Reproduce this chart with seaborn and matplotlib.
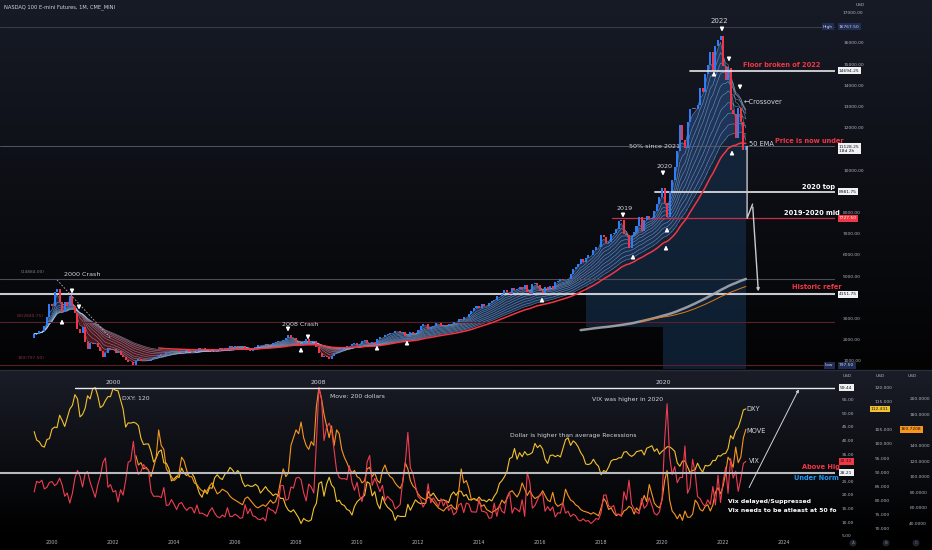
import numpy as np
import pandas as pd
import matplotlib
matplotlib.use('Agg')
import matplotlib.pyplot as plt
import matplotlib.transforms as mtransforms
from matplotlib.colors import LinearSegmentedColormap
from matplotlib.lines import Line2D
import seaborn as sns

# ---------------------------------------------------------------- data
# NASDAQ 100 e-mini, monthly closes, Jun 1999 -> Oct 2022
NQ_START = '1999-06-01'
NQ_FIRST_OPEN = 2091
nq_close = [
    2296, 2260, 2396, 2408, 2666, 3088, 3708,
    3571, 4267, 4398, 3773, 3324, 3764, 3609, 4078, 3571, 3282, 2507, 2342,
    2593, 1908, 1573, 1855, 1799, 1830, 1683, 1469, 1168, 1364, 1596, 1577,
    1550, 1359, 1452, 1277, 1208, 1051, 962, 942, 833, 989, 1116, 984,
    981, 1012, 1018, 1106, 1198, 1201, 1263, 1315, 1303, 1416, 1424, 1468,
    1477, 1451, 1439, 1400, 1475, 1517, 1401, 1363, 1437, 1502, 1591, 1621,
    1519, 1499, 1483, 1424, 1542, 1494, 1605, 1581, 1601, 1585, 1688, 1645,
    1710, 1676, 1703, 1700, 1585, 1575, 1481, 1554, 1654, 1732, 1771, 1757,
    1791, 1758, 1773, 1864, 1916, 1934, 1933, 1976, 2092, 2239, 2090, 2085,
    1841, 1739, 1781, 1911, 2028, 1837, 1873, 1928, 1664, 1375, 1165, 1212,
    1176, 1111, 1237, 1391, 1441, 1477, 1592, 1632, 1718, 1690, 1785, 1860,
    1732, 1818, 1956, 2006, 1855, 1766, 1892, 1791, 2019, 2141, 2124, 2217,
    2266, 2325, 2338, 2414, 2399, 2340, 2345, 2201, 2140, 2345, 2299, 2278,
    2461, 2640, 2756, 2722, 2517, 2616, 2631, 2773, 2799, 2659, 2677, 2660,
    2732, 2739, 2819, 2839, 2996, 2910, 3088, 3067, 3219, 3372, 3498, 3592,
    3506, 3676, 3596, 3589, 3736, 3849, 3887, 4083, 4050, 4158, 4338, 4236,
    4152, 4441, 4334, 4415, 4508, 4397, 4589, 4275, 4182, 4649, 4665, 4594,
    4280, 4202, 4484, 4341, 4524, 4418, 4731, 4771, 4876, 4801, 4810, 4864,
    5119, 5331, 5436, 5584, 5788, 5647, 5880, 5988, 5980, 6248, 6373, 6397,
    6950, 6856, 6581, 6605, 6967, 7040, 7232, 7624, 7628, 6968, 6949, 6330,
    6907, 7101, 7378, 7781, 7128, 7672, 7848, 7692, 7750, 8084, 8404, 8733,
    9150, 8462, 7813, 9000, 9555, 10157, 10906, 12111, 11418, 11052, 12268, 12888,
    12925, 12909, 13091, 13861, 13687, 14554, 14960, 15582, 14689, 15851, 16135, 16320,
    14930, 14238, 14839, 12855, 12643, 11504, 12947, 12273, 10971, 11128.25,
]

# DXY and VIX monthly closes, same months as the futures
dxy_close = [
    104.4, 101.4, 100.8, 99.3, 98.9, 101.6, 101.9,
    105.3, 106.0, 105.8, 110.2, 108.4, 106.2, 109.2, 112.4, 113.7, 117.5, 116.0, 109.6,
    110.5, 112.7, 117.1, 116.0, 119.5, 120.0, 117.2, 112.9, 113.6, 115.4, 116.8, 116.8,
    119.7, 119.0, 118.9, 115.6, 112.4, 106.0, 107.5, 107.4, 107.7, 107.4, 106.5, 102.0,
    99.8, 100.0, 100.0, 97.3, 93.6, 95.0, 97.2, 97.9, 93.3, 93.2, 91.2, 86.9,
    87.6, 88.6, 88.1, 91.5, 89.6, 88.8, 89.8, 89.7, 88.1, 85.2, 82.4, 81.1,
    83.8, 82.3, 84.5, 84.3, 88.0, 89.1, 88.0, 87.4, 89.3, 89.9, 91.7, 90.8,
    89.4, 90.6, 89.6, 86.5, 84.9, 85.5, 85.0, 85.0, 85.7, 85.0, 82.6, 83.7,
    84.9, 83.5, 82.8, 81.7, 82.3, 81.8, 80.7, 80.7, 78.0, 76.5, 75.9, 76.7,
    75.3, 73.8, 71.8, 73.6, 72.9, 72.6, 73.1, 77.2, 79.0, 86.0, 86.6, 81.5,
    85.8, 88.2, 85.5, 84.4, 79.6, 80.1, 78.6, 78.2, 76.8, 76.4, 74.8, 77.9,
    79.5, 80.4, 81.0, 81.8, 86.6, 86.0, 81.6, 83.1, 78.8, 77.0, 81.4, 79.0,
    77.6, 76.8, 75.9, 72.9, 74.6, 74.3, 74.3, 74.3, 78.6, 76.5, 78.4, 80.2,
    79.3, 78.8, 79.0, 78.9, 83.2, 81.6, 82.6, 81.2, 79.9, 80.0, 80.2, 79.8,
    79.2, 82.0, 83.0, 81.8, 83.3, 83.2, 81.5, 82.1, 80.2, 80.2, 80.7, 80.0,
    81.2, 80.0, 80.1, 79.5, 80.4, 79.8, 81.5, 82.8, 86.0, 87.0, 88.4, 90.3,
    94.8, 95.3, 98.4, 94.6, 96.9, 95.5, 97.3, 96.1, 96.4, 97.0, 100.2, 98.7,
    99.6, 98.2, 94.6, 93.1, 95.9, 96.1, 95.5, 96.0, 95.4, 98.4, 101.5, 102.2,
    99.5, 101.1, 100.4, 99.0, 97.0, 95.6, 92.9, 92.7, 93.1, 94.6, 93.0, 92.1,
    89.1, 90.6, 90.1, 91.8, 94.0, 94.5, 94.5, 95.1, 95.1, 97.1, 97.3, 96.2,
    95.6, 96.2, 97.3, 97.5, 97.8, 96.1, 98.5, 98.9, 99.4, 97.4, 98.3, 96.4,
    97.4, 98.1, 99.0, 99.0, 98.3, 97.4, 93.3, 92.1, 93.9, 94.0, 91.9, 89.9,
    90.6, 90.9, 93.2, 91.3, 90.0, 92.4, 92.2, 92.6, 94.2, 94.1, 95.9, 95.7,
    96.5, 96.7, 98.3, 103.0, 101.8, 104.7, 105.9, 108.7, 112.1, 112.431,
]

vix_close = [
    21.1, 25.0, 24.5, 25.4, 22.2, 22.8, 24.6,
    24.9, 23.4, 24.1, 26.2, 23.7, 19.5, 20.7, 17.0, 20.6, 26.2, 29.0, 26.9,
    22.9, 28.0, 28.6, 24.7, 21.9, 19.1, 23.6, 26.9, 31.9, 33.6, 22.8, 23.8,
    21.1, 21.6, 17.4, 21.9, 19.9, 25.4, 32.0, 32.6, 39.7, 31.1, 27.5, 28.6,
    31.2, 29.6, 29.2, 21.2, 19.5, 19.5, 19.5, 19.0, 22.7, 16.1, 16.3, 18.3,
    16.6, 14.6, 16.7, 17.2, 15.5, 14.3, 15.3, 15.3, 13.3, 16.3, 13.2, 13.3,
    12.8, 12.1, 14.0, 15.3, 13.3, 12.0, 11.6, 12.6, 11.9, 15.3, 12.1, 12.1,
    12.9, 12.3, 11.4, 11.6, 16.4, 13.1, 14.9, 12.3, 12.0, 11.1, 10.9, 11.6,
    10.4, 15.4, 14.6, 14.2, 13.1, 16.2, 23.5, 23.4, 18.0, 18.5, 22.9, 22.5,
    26.2, 26.5, 25.6, 20.8, 17.8, 24.0, 22.9, 20.7, 39.4, 59.44, 55.3, 40.0,
    44.8, 46.4, 44.1, 36.5, 28.9, 26.4, 25.9, 26.0, 25.6, 30.7, 24.5, 21.7,
    24.6, 19.5, 17.6, 22.1, 32.1, 34.5, 23.5, 26.1, 23.7, 21.2, 23.5, 17.8,
    19.5, 18.4, 17.7, 14.8, 15.5, 16.5, 25.3, 31.6, 43.0, 30.0, 27.8, 23.4,
    19.4, 18.4, 15.5, 17.2, 24.1, 17.1, 18.9, 17.5, 15.7, 18.6, 15.9, 18.0,
    14.3, 15.5, 12.7, 13.5, 16.3, 16.9, 13.5, 17.0, 16.6, 13.8, 13.7, 13.7,
    18.4, 14.0, 13.9, 13.4, 11.4, 11.6, 17.0, 12.1, 16.3, 14.0, 13.3, 19.2,
    21.0, 13.3, 15.3, 14.6, 13.8, 18.2, 12.1, 28.4, 24.5, 15.1, 16.1, 18.2,
    20.2, 20.6, 14.0, 15.7, 14.2, 15.6, 11.9, 13.4, 13.3, 17.1, 13.3, 14.0,
    12.0, 12.9, 12.4, 10.8, 10.4, 11.2, 10.3, 10.6, 9.5, 10.2, 11.3, 11.0,
    13.5, 19.9, 20.0, 15.9, 15.4, 16.1, 12.8, 12.9, 12.1, 21.2, 18.1, 25.4,
    16.6, 14.8, 13.7, 13.1, 18.7, 15.1, 16.1, 19.0, 16.2, 13.2, 12.6, 13.8,
    18.8, 40.1, 53.5, 34.2, 27.5, 30.4, 24.5, 26.4, 26.4, 38.0, 20.6, 22.8,
    33.1, 28.0, 19.4, 18.6, 16.8, 15.8, 18.2, 16.5, 23.1, 16.3, 27.2, 17.2,
    24.8, 30.2, 20.6, 33.4, 26.2, 28.7, 21.3, 25.9, 31.6, 32.32,
]

# MOVE index monthly closes, Oct 2002 -> Oct 2022
MOVE_START = '2002-10-01'
move_close = [
    127, 115, 118,
    110, 112, 108, 100, 112, 125, 160, 140, 135, 110, 105, 100,
    95, 98, 105, 125, 120, 108, 100, 100, 92, 90, 85, 82,
    80, 82, 88, 92, 85, 78, 80, 84, 82, 80, 75, 72,
    70, 68, 66, 64, 72, 74, 70, 66, 62, 60, 62, 64,
    62, 66, 70, 66, 68, 78, 95, 110, 100, 105, 140, 150,
    160, 155, 170, 150, 140, 135, 145, 140, 190, 214, 200, 180,
    165, 150, 165, 140, 160, 155, 135, 125, 118, 110, 105, 108,
    100, 98, 92, 95, 110, 112, 100, 105, 95, 92, 108, 115,
    105, 100, 98, 92, 88, 85, 92, 118, 110, 95, 88, 85,
    78, 74, 72, 70, 74, 72, 68, 64, 60, 58, 56, 60,
    62, 64, 60, 58, 80, 110, 92, 95, 85, 70, 72, 70,
    68, 62, 64, 58, 56, 54, 56, 58, 62, 70, 66, 72,
    80, 82, 78, 74, 80, 92, 84, 76, 82, 76, 72, 74,
    76, 82, 76, 70, 68, 80, 66, 62, 64, 66, 84, 76,
    70, 68, 64, 62, 58, 56, 55, 54, 52, 54, 52, 50,
    60, 72, 68, 58, 60, 54, 50, 52, 50, 56, 58, 62,
    60, 52, 60, 56, 66, 76, 68, 90, 78, 66, 62, 60,
    70, 95, 108, 70, 56, 52, 46, 52, 44, 56, 48, 48,
    52, 70, 66, 58, 56, 62, 64, 56, 64, 80, 86, 78,
    88, 105, 125, 120, 112, 138, 118, 125, 150, 160.7208,
]

# drawn levels
HIGH_2022 = 16767.50
FLOOR_2022 = 14694.25
LAST_PRICE = 11128.25
TOP_2020 = 8981.75
MID_2019_2020 = 7727.50
FIB_0 = 4884.00
HIST_REF = 4151.75
FIB_50 = 2840.75
LOW_ALL = 797.50
VIX_TOP = 59.44
VIX_NORMAL = 28.21

# projected path drawn on the chart
path_dates = ['2022-10-15', '2022-10-15', '2022-12-20', '2023-03-01']
path_prices = [LAST_PRICE, MID_2019_2020, 8400, HIST_REF]

# axis ticks (labels hidden behind the price tags are left out)
price_ticks = [1000, 2000, 3000, 5000, 6000, 7000, 8000, 10000, 12000, 13000, 14000, 15000, 16000]
vix_ticks = [5, 10, 15, 20, 25, 35, 40, 45, 50, 55]
dxy_ticks = [70, 75, 80, 85, 90, 95, 100, 105, 115, 120]
move_ticks = [40, 60, 80, 100, 120, 140, 180, 200]

RIBBON_SPANS = [3, 6, 9, 12, 16, 20, 25, 30, 36, 42]

# ---------------------------------------------------------------- style
W, H = 932, 550
UP = '#2f7df6'
DOWN = '#f23645'
TXT = '#d1d4dc'
AXT = '#b2b5be'
DXY_C = '#f2c12e'
MOVE_C = '#f7961f'
VIX_C = '#ee3d52'
TICK_FS = 3.2
XLIM = (pd.Timestamp('1998-04-18'), pd.Timestamp('2025-09-02'))

sns.set_theme(style='dark')
plt.rcParams['font.family'] = ['DejaVu Sans']

fig = plt.figure(figsize=(W / 100, H / 100), dpi=100, facecolor='black')
PIX = mtransforms.Affine2D().scale(1 / W, -1 / H).translate(0, 1) + fig.transFigure


def gradient(y_top, y_bot, c_top, c_bot):
    bg = fig.add_axes([0, 1 - y_bot / H, 1, (y_bot - y_top) / H], zorder=-10)
    cmap = LinearSegmentedColormap.from_list('bg', [c_bot, c_top])
    bg.imshow(np.linspace(0, 1, 256).reshape(-1, 1), aspect='auto', cmap=cmap,
              origin='lower', extent=(0, 1, 0, 1))
    bg.set_axis_off()


def note(x, y, s, color=TXT, size=4.6, weight='normal', ha='left', z=8):
    return fig.text(x, y, s, transform=PIX, color=color, fontsize=size, fontweight=weight,
                    ha=ha, va='center', zorder=z)


def arrow(x, y, down=True):
    dy = 4.5 if down else -4.5
    fig.add_artist(matplotlib.patches.FancyArrowPatch(
        (x, y - dy), (x, y + dy), transform=PIX, arrowstyle='-|>', mutation_scale=5,
        color='white', lw=1.1, zorder=9))


def tag(ax, x_px, y, s, fc, tc='#131722'):
    tr = mtransforms.blended_transform_factory(ax.transAxes, ax.transData)
    ax.text(x_px / 835, y, s, transform=tr, ha='left', va='center', fontsize=TICK_FS, color=tc,
            bbox=dict(boxstyle='square,pad=0.3', fc=fc, ec='none'), clip_on=False, zorder=20)


def clean(ax):
    ax.set_facecolor('none')
    ax.grid(False)
    for sp in ax.spines.values():
        sp.set_visible(False)
    ax.set(xlabel='', ylabel='')


def right_ticks(ax, ticks, fmt, pad):
    ax.yaxis.tick_right()
    ax.set_yticks(ticks)
    ax.set_yticklabels([fmt.format(v) for v in ticks])
    ax.tick_params(axis='y', length=0, pad=pad, labelsize=TICK_FS, labelcolor=AXT)


gradient(0, 369, '#171b26', '#030304')
gradient(371, 537, '#1a1d27', '#000000')
fig.add_artist(Line2D([0, 1], [1 - 370 / H] * 2, transform=fig.transFigure, color='#2a2e39', lw=1))

# ---------------------------------------------------------------- price pane
nq = pd.DataFrame({'date': pd.date_range(NQ_START, periods=len(nq_close), freq='MS'),
                   'close': nq_close})
nq['open'] = nq['close'].shift(1).fillna(NQ_FIRST_OPEN)
for p in RIBBON_SPANS:
    nq[f'ema{p}'] = nq['close'].ewm(span=p).mean()
nq['ema50'] = nq['close'].ewm(span=50, min_periods=50).mean()
nq['sma216'] = nq['close'].rolling(216).mean()
nq['sma240'] = nq['close'].rolling(240).mean()

ax = fig.add_axes([0, 1 - 369 / H, 835 / W, 369 / H])
ax.set_xlim(XLIM)
ax.set_ylim(622, 18028)

fast = nq[f'ema{RIBBON_SPANS[0]}']
slow = nq[f'ema{RIBBON_SPANS[-1]}']
shade = nq['date'] >= pd.Timestamp('2017-07-01')
floor = np.where(nq['date'] < pd.Timestamp('2020-02-01'), 2600, 622)
ax.fill_between(nq['date'][shade], floor[shade], slow[shade], color='#183556', alpha=0.55,
                lw=0, zorder=1, step='mid')
ax.fill_between(nq['date'], fast, slow, where=fast >= slow, interpolate=True,
                color='#3d7fe0', alpha=0.32, lw=0, zorder=2)
ax.fill_between(nq['date'], fast, slow, where=fast < slow, interpolate=True,
                color=DOWN, alpha=0.32, lw=0, zorder=2)
for p in RIBBON_SPANS:
    sns.lineplot(data=nq, x='date', y=f'ema{p}', ax=ax, color='#a9cdf5', lw=0.45, alpha=0.55,
                 zorder=2.5)

# levels
ax.axhline(HIGH_2022, color='#3b3f4a', lw=0.7, zorder=3)
ax.axhline(LAST_PRICE, color='#5d606b', lw=0.6, zorder=3)
ax.axhline(FIB_0, color='#4a4d57', lw=0.8, zorder=3)
ax.axhline(FIB_50, color='#5a1f2b', lw=0.8, zorder=3)
ax.axhline(LOW_ALL, color='#5a1f2b', lw=0.8, zorder=3)
ax.axhline(HIST_REF, color='#c8cad0', lw=1.5, zorder=3)
ax.axhline(FLOOR_2022, xmin=690 / 835, color='#e6e7ea', lw=1.2, zorder=6)
ax.axhline(TOP_2020, xmin=655 / 835, color='#c8cad0', lw=1.4, zorder=3)
ax.axhline(MID_2019_2020, xmin=612 / 835, color='#c2304a', lw=0.9, zorder=3)

# candles
colors = np.where(nq['close'] >= nq['open'], UP, DOWN)
ax.bar(nq['date'], nq['close'] - nq['open'], bottom=nq['open'], width=24, color=colors,
       lw=0, zorder=4)

sns.lineplot(data=nq, x='date', y='ema50', ax=ax, color=DOWN, lw=1.1, zorder=5)
sns.lineplot(data=nq, x='date', y='sma216', ax=ax, color='#aeb1b9', lw=1.8, alpha=0.85, zorder=5)
sns.lineplot(data=nq, x='date', y='sma240', ax=ax, color='#e07b1a', lw=0.7, zorder=5)

# 2000 trend line and projection
ax.plot(pd.to_datetime(['2000-03-01', '2001-12-01']), [4821, 2085], color='#b2b5be',
        lw=0.6, ls=(0, (2, 2)), zorder=6)
pdates = pd.to_datetime(path_dates)
ax.plot(pdates[:3], path_prices[:3], color='#c8cad0', lw=1.0, zorder=6, clip_on=False)
ax.annotate('', xy=(pdates[3], path_prices[3]), xytext=(pdates[2], path_prices[2]),
            arrowprops=dict(arrowstyle='-|>', color='#c8cad0', lw=1.0, mutation_scale=4),
            zorder=6)

clean(ax)
ax.set_xticks([])
right_ticks(ax, price_ticks, '{:.2f}', 5.8)

tag(ax, 823, HIGH_2022, 'High', '#1f2c55', TXT)
tag(ax, 839, HIGH_2022, f'{HIGH_2022:.2f}', '#1f2c55', TXT)
tag(ax, 839, FLOOR_2022, f'{FLOOR_2022:.2f}', '#f0f1f3')
tag(ax, 839, LAST_PRICE - 120, f'{LAST_PRICE:.2f}\n18d 2h', '#f0f1f3')
tag(ax, 839, TOP_2020, f'{TOP_2020:.2f}', '#f0f1f3')
tag(ax, 839, MID_2019_2020, f'{MID_2019_2020:.2f}', DOWN, 'white')
tag(ax, 839, HIST_REF, f'{HIST_REF:.2f}', '#f0f1f3')
tag(ax, 825, LOW_ALL, 'Low', '#1f2c55', TXT)
tag(ax, 839, LOW_ALL, f'{LOW_ALL:.2f}', '#1f2c55', TXT)
note(843, 13, '17000.00', AXT, TICK_FS)

note(4, 7, 'NASDAQ 100 E-mini Futures, 1M, CME_MINI', TXT, 3.7)
note(856, 5, 'USD', AXT, TICK_FS)
note(21, 272, f'0({FIB_0:.2f})', '#787b86', TICK_FS)
note(17, 316, f'50({FIB_50:.2f})', '#8a3040', TICK_FS)
note(18, 358, f'100({LOW_ALL:.2f})', '#8a3040', TICK_FS)

note(64, 275, '2000 Crash')
note(282, 325, '2008 Crash')
note(625, 209, '2019', ha='center')
note(665, 167, '2020', ha='center')
note(719, 21, '2022', ha='center', size=5)
note(629, 146, '50% since 2021', z=3.5)
note(744, 102, '\u2190Crossover', size=4.8)
note(749, 144, '50 EMA', size=4.8)
note(775, 141, 'Price is now under', DOWN, 4.8, 'bold')
note(743, 65, 'Floor broken of 2022', DOWN, 4.8, 'bold')
note(802, 187, '2020 top', 'white', 4.8, 'bold')
note(784, 213, '2019-2020 mid', 'white', 4.8, 'bold')
note(792, 287, 'Historic refer', DOWN, 4.8, 'bold')

for x, y in [(722, 30), (729, 60), (740, 88), (663, 174), (623, 216), (72, 292),
             (79, 308), (288, 330), (308, 338)]:
    arrow(x, y, True)
for x, y in [(714, 73), (732, 152), (667, 229), (666, 247), (633, 256), (542, 299),
             (407, 342), (377, 347), (301, 349), (62, 321)]:
    arrow(x, y, False)

# ---------------------------------------------------------------- indicator pane
ind = pd.DataFrame({'date': pd.date_range(NQ_START, periods=len(vix_close), freq='MS'),
                    'vix': vix_close})
dxy = pd.DataFrame({'date': pd.date_range(NQ_START, periods=len(dxy_close), freq='MS'),
                    'dxy': dxy_close})
move = pd.DataFrame({'date': pd.date_range(MOVE_START, periods=len(move_close), freq='MS'),
                     'move': move_close})

rect = [0, 1 - 537 / H, 835 / W, 165 / H]
ax_d = fig.add_axes(rect)
ax_m = ax_d.twinx()
ax_v = ax_d.twinx()

sns.lineplot(data=dxy, x='date', y='dxy', ax=ax_d, color=DXY_C, lw=0.8)
sns.lineplot(data=move, x='date', y='move', ax=ax_m, color=MOVE_C, lw=0.8)
sns.lineplot(data=ind, x='date', y='vix', ax=ax_v, color=VIX_C, lw=0.8)

ax_d.set_ylim(67.02, 125.53)
ax_m.set_ylim(22.7, 234.2)
ax_v.set_ylim(4.52, 65.2)
for a in (ax_d, ax_m, ax_v):
    clean(a)
    a.set_xlim(XLIM)

ax_v.axhline(VIX_TOP, xmin=75 / 835, color='#e8e9ec', lw=1.0, zorder=6)
ax_v.axhline(VIX_NORMAL, color='#b8bac0', lw=1.5, zorder=6)
ax_v.annotate('', xy=(pd.Timestamp('2024-07-10'), 59.7), xytext=(pd.Timestamp('2022-10-25'), 21.8),
              arrowprops=dict(arrowstyle='-|>', color='#d1d4dc', lw=0.7, mutation_scale=4),
              zorder=7)

right_ticks(ax_v, vix_ticks, '{:.2f}', 5)
right_ticks(ax_d, dxy_ticks, '{:.3f}', 28.5)
right_ticks(ax_m, move_ticks, '{:.4f}', 53.5)

years = list(range(2000, 2025, 2))
ax_d.set_xticks(pd.to_datetime([f'{y}-01-01' for y in years]))
ax_d.set_xticklabels([str(y) for y in years])
ax_d.tick_params(axis='x', length=0, pad=2.2, labelsize=3.5, labelcolor=AXT)
for a in (ax_m, ax_v):
    a.tick_params(axis='x', length=0, labelbottom=False)

tag(ax_v, 840, VIX_TOP, f'{VIX_TOP:.2f}', '#f0f1f3')
tag(ax_v, 840, vix_close[-1], f'{vix_close[-1]:.2f}', DOWN, '#131722')
tag(ax_v, 840, VIX_NORMAL, f'{VIX_NORMAL:.2f}', '#f0f1f3')
tag(ax_d, 871, dxy_close[-1], f'{dxy_close[-1]:.3f}', DXY_C)
tag(ax_m, 901, move_close[-1], f'{move_close[-1]:.4f}', MOVE_C)

for x in (843, 876, 908):
    note(x, 376, 'USD', AXT, TICK_FS)
for x, s in [(853, 'A'), (886, 'B'), (916, 'C')]:
    fig.text(x / W, 1 - 543 / H, s, color='#787b86', fontsize=3, ha='center', va='center',
             bbox=dict(boxstyle='circle,pad=0.35', fc='#1e222d', ec='none'))

note(113, 382, '2000', size=4.4, ha='center')
note(318, 382, '2008', size=4.4, ha='center')
note(663, 382, '2020', size=4.4, ha='center')
note(122, 398, 'DXY: 120', size=4.4)
note(330, 397, 'Move: 200 dollars', size=4.4)
note(592, 399, 'VIX was higher in 2020', size=4.4)
note(510, 435, 'Dollar is higher than average Recessions', size=4.4)
note(746, 409, 'DXY', size=4.8)
note(746, 431, 'MOVE', size=4.8)
note(749, 461, 'VIX', size=4.8)
note(802, 467, 'Above Hig', DOWN, 4.8, 'bold')
note(794, 478, 'Under Norm', '#2196f3', 4.8, 'bold')
note(728, 502, 'Vix delayed/Suppressed', 'white', 4.4, 'bold')
note(728, 510, 'Vix needs to be atleast at 50 fo', 'white', 4.4, 'bold')

fig.savefig('out.png', dpi=100, facecolor='black')
